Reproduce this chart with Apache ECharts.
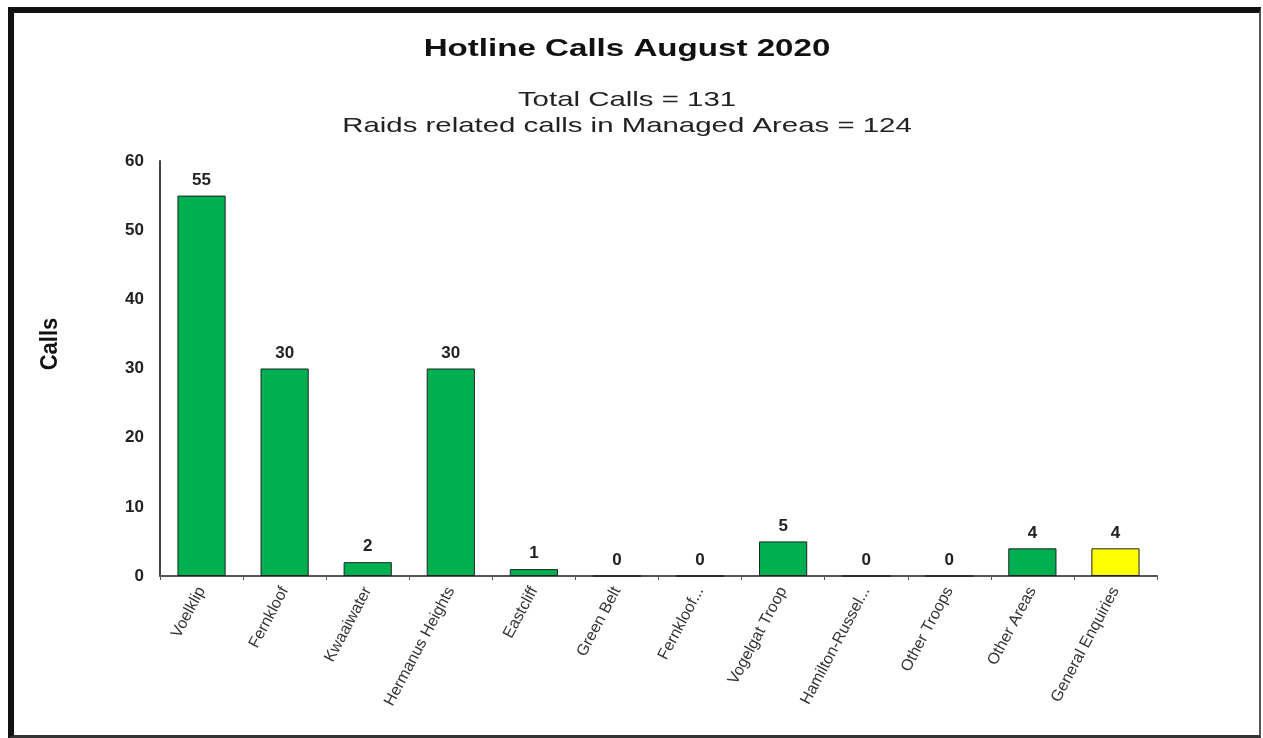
<!DOCTYPE html>
<html>
<head>
<meta charset="utf-8">
<script src="https://cdn.jsdelivr.net/npm/echarts@6/dist/echarts.min.js"></script>
<style>
html,body{margin:0;padding:0;background:#fff;}
#frame{position:absolute;left:8px;top:7px;width:1245px;height:722px;border-left:6px solid #111;border-top:6px solid #111;border-right:2px solid #555;border-bottom:3px solid #333;box-sizing:content-box;}
#chart{position:absolute;left:0;top:0;width:1263px;height:738px;}
</style>
</head>
<body>
<div id="frame"></div>
<div id="chart"></div>
<script>
const titleText = 'Hotline Calls August 2020';
const subtitleLines = ['Total Calls = 131', 'Raids related calls in Managed Areas = 124'];
const yAxisName = 'Calls';
const categories = ['Voelklip','Fernkloof','Kwaaiwater','Hermanus Heights','Eastcliff','Green Belt','Fernkloof...','Vogelgat Troop','Hamilton-Russel...','Other Troops','Other Areas','General Enquiries'];
const calls = [55, 30, 2, 30, 1, 0, 0, 5, 0, 0, 4, 4];
const barColors = ['#00B050','#00B050','#00B050','#00B050','#00B050','#00B050','#00B050','#00B050','#00B050','#00B050','#00B050','#FFFF00'];
const yTicks = [0, 10, 20, 30, 40, 50, 60];

const chart = echarts.init(document.getElementById('chart'));
const font = 'Liberation Sans, Arial, sans-serif';
chart.setOption({
  animation: false,
  graphic: [
    {type: 'text', x: 627, y: 49, scaleX: 1.38,
     style: {text: titleText, font: 'bold 24px ' + font, fill: '#111', textAlign: 'center', textVerticalAlign: 'middle'}},
    {type: 'text', x: 627, y: 100, scaleX: 1.4,
     style: {text: subtitleLines[0], font: '21px ' + font, fill: '#222', textAlign: 'center', textVerticalAlign: 'middle'}},
    {type: 'text', x: 627, y: 126, scaleX: 1.4,
     style: {text: subtitleLines[1], font: '21px ' + font, fill: '#222', textAlign: 'center', textVerticalAlign: 'middle'}},
    {type: 'text', x: 50, y: 344, rotation: Math.PI / 2, scaleY: 1.1,
     style: {text: yAxisName, font: 'bold 22px ' + font, fill: '#111', textAlign: 'center', textVerticalAlign: 'middle'}}
  ],
  grid: {left: 160, right: 106, top: 161, bottom: 162, containLabel: false},
  xAxis: {
    type: 'category', data: categories,
    axisLine: {lineStyle: {color: '#555', width: 2}},
    axisTick: {show: true, length: 4, lineStyle: {color: '#555'}},
    axisLabel: {rotate: 62, fontFamily: font, fontSize: 16, color: '#333', margin: 12, interval: 0}
  },
  yAxis: {
    type: 'value', min: yTicks[0], max: yTicks[yTicks.length-1], interval: 10,
    axisLine: {show: true, lineStyle: {color: '#444', width: 2}},
    axisTick: {show: false},
    splitLine: {show: false},
    axisLabel: {fontFamily: font, fontSize: 17, fontWeight: 'bold', color: '#222', margin: 16}
  },
  series: [{
    type: 'bar', barWidth: '58%',
    data: calls.map((v, i) => ({value: v, itemStyle: {color: barColors[i]}})),
    itemStyle: {borderColor: '#222', borderWidth: 1},
    label: {show: true, position: 'top', distance: 7, fontFamily: font, fontSize: 17, fontWeight: 'bold', color: '#222'}
  }]
});
</script>
</body>
</html>
